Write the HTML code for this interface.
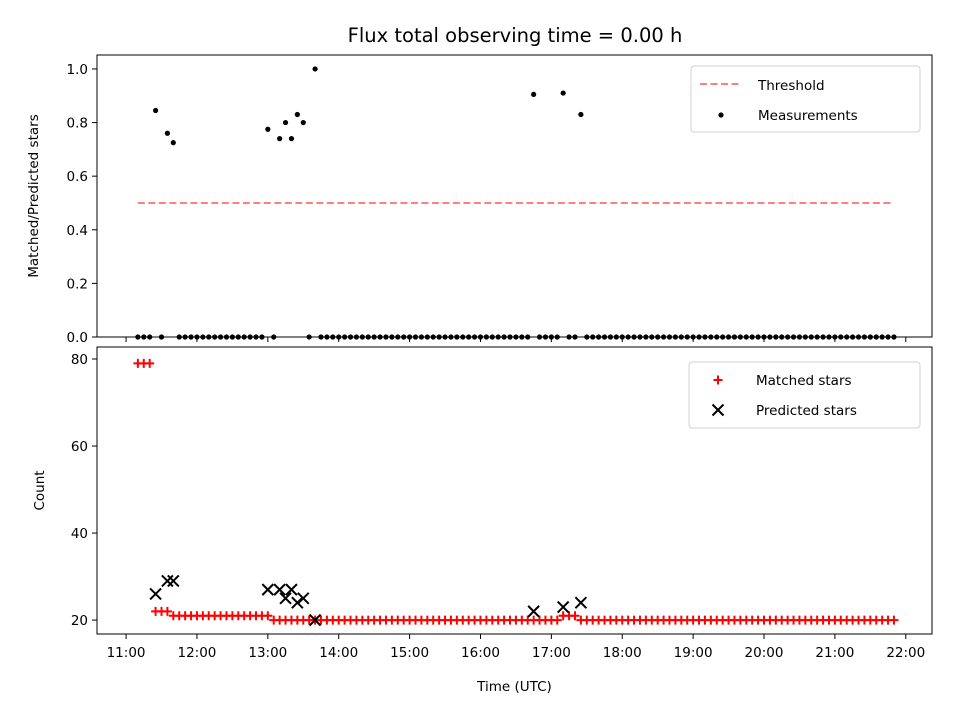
<!DOCTYPE html>
<html><head><meta charset="utf-8"><style>
body{margin:0;background:#fff;}
svg text{font-family:"DejaVu Sans","Liberation Sans",sans-serif;fill:#000;}
</style></head><body>
<svg id="chart" width="960" height="720" xmlns="http://www.w3.org/2000/svg">
<rect width="960" height="720" fill="#fff"/>
<text x="515" y="42" font-size="19.5" text-anchor="middle">Flux total observing time = 0.00 h</text>
<g id="topPanel"></g><g id="botPanel"></g>
</svg>
<script>
const startMin = 11*60+10;
const stepMin = 5;
const nPoints = 129;
const ratioTimes = ["11:25","11:35","11:40","13:00","13:10","13:15","13:20","13:25","13:30","13:40","16:45","17:10","17:25"];
const ratioValues = [0.845,0.76,0.725,0.775,0.74,0.80,0.74,0.83,0.80,1.0,0.905,0.91,0.83];
const predictedTimes = ["11:25","11:35","11:40","13:00","13:10","13:15","13:20","13:25","13:30","13:40","16:45","17:10","17:25"];
const predictedValues = [26,29,29,27,27,25,27,24,25,20,22,23,24];
const matchedSegments = [["11:10","11:20",79],["11:25","11:35",22],["11:40","13:00",21],["13:05","17:05",20],["17:10","17:20",21],["17:25","21:50",20]];
const threshold = 0.5;
const xTickLabels = ["11:00","12:00","13:00","14:00","15:00","16:00","17:00","18:00","19:00","20:00","21:00","22:00"];
const topYTicks = [0.0,0.2,0.4,0.6,0.8,1.0];
const botYTicks = [20,40,60,80];

const NS="http://www.w3.org/2000/svg";
const L=97,R=932;
const xMin=10.59,xMax=22.37;
const X=h=>L+(h-xMin)/(xMax-xMin)*(R-L);
const T1=55,B1=337,T2=347,B2=634;
const Y1=v=>B1-(v-0)/(1.052)*(B1-T1);
const Y2=v=>B2-(v-16.8)/(82.76-16.8)*(B2-T2);
const hr=s=>{const[a,b]=s.split(":").map(Number);return a+b/60;};
function el(tag,attrs,parent){const e=document.createElementNS(NS,tag);for(const k in attrs)e.setAttribute(k,attrs[k]);parent.appendChild(e);return e;}
const topG=document.getElementById("topPanel"),botG=document.getElementById("botPanel");

function axes(g,T,B,Y,ticks,fmt,title,titleY){
  ticks.forEach(v=>{const y=Y(v);
    const t=el("line",{x1:L-5,x2:L,y1:y,y2:y,stroke:"#000","stroke-width":1},g);
    
    
    const tx=el("text",{x:L-9,y:y+5,"font-size":"13.5","text-anchor":"end"},g);tx.textContent=fmt(v);
    
    
  });
  xTickLabels.forEach(s=>{const x=X(hr(s));
    const t=el("line",{x1:x,x2:x,y1:B,y2:B+5,stroke:"#000","stroke-width":1},g);
    
    
  });
  const yt=el("text",{x:0,y:0,"font-size":"13.5","text-anchor":"middle",transform:`translate(${titleY},${(T+B)/2}) rotate(-90)`},g);
  yt.textContent=title;
  
  
}

axes(topG,T1,B1,Y1,topYTicks,v=>v.toFixed(1),"Matched/Predicted stars",38);
const th=el("line",{x1:X(hr("11:10")),x2:X(hr("21:50")),y1:Y1(threshold),y2:Y1(threshold),stroke:"#ff7f7f","stroke-width":2,"stroke-dasharray":"7,3.5"},topG);


for(let i=0;i<nPoints;i++){
  const m=startMin+i*stepMin;const s=Math.floor(m/60)+":"+String(m%60).padStart(2,"0");
  const k=ratioTimes.indexOf(s);const v=k>=0?ratioValues[k]:0;
  const c=el("circle",{cx:X(m/60),cy:Y1(v),r:2.6,fill:"#000"},topG);
  
  
}
const f1=el("rect",{x:L,y:T1,width:R-L,height:B1-T1,fill:"none",stroke:"#000","stroke-width":1},topG);


const lg1=el("g",{},topG);


el("rect",{x:691,y:66,width:229,height:66,rx:3,fill:"#fff",stroke:"#d0d0d0"},lg1);
el("line",{x1:700,x2:742,y1:84,y2:84,stroke:"#ff7f7f","stroke-width":2,"stroke-dasharray":"7,3.5"},lg1);
let t=el("text",{x:758,y:90,"font-size":"13.5"},lg1);t.textContent="Threshold";
el("circle",{cx:721,cy:115,r:2.6,fill:"#000"},lg1);
t=el("text",{x:758,y:120,"font-size":"13.5"},lg1);t.textContent="Measurements";

axes(botG,T2,B2,Y2,botYTicks,v=>String(v),"Count",44);
xTickLabels.forEach(s=>{const tx=el("text",{x:X(hr(s)),y:B2+23,"font-size":"13.5","text-anchor":"middle"},botG);tx.textContent=s;
  
  });
const xt=el("text",{x:(L+R)/2,y:691,"font-size":"13.5","text-anchor":"middle"},botG);xt.textContent="Time (UTC)";


function plus(x,y,g){const p=el("path",{d:`M${x-4.5} ${y}H${x+4.5}M${x} ${y-4.5}V${y+4.5}`,stroke:"#ff0000","stroke-width":2},g);
  
  }
function cross(x,y,g){const p=el("path",{d:`M${x-5.5} ${y-5.5}L${x+5.5} ${y+5.5}M${x-5.5} ${y+5.5}L${x+5.5} ${y-5.5}`,stroke:"#000","stroke-width":2},g);
  
  }
matchedSegments.forEach(([a,b,v])=>{for(let m=hr(a)*60;m<=hr(b)*60+0.01;m+=stepMin)plus(X(m/60),Y2(v),botG);});
predictedTimes.forEach((s,i)=>cross(X(hr(s)),Y2(predictedValues[i]),botG));
const f2=el("rect",{x:L,y:T2,width:R-L,height:B2-T2,fill:"none",stroke:"#000","stroke-width":1},botG);


const lg2=el("g",{},botG);


el("rect",{x:689,y:362,width:231,height:66,rx:3,fill:"#fff",stroke:"#d0d0d0"},lg2);
plus(718,380,lg2);
t=el("text",{x:756,y:385,"font-size":"13.5"},lg2);t.textContent="Matched stars";
cross(718,410,lg2);
t=el("text",{x:756,y:415,"font-size":"13.5"},lg2);t.textContent="Predicted stars";
</script>
</body></html>
